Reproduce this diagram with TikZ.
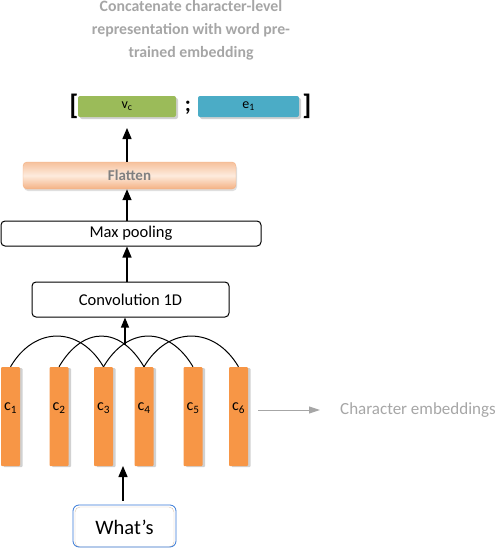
\documentclass[tikz,border=0pt]{standalone}
\usepackage{fontspec}
\setmainfont{Carlito}
\usetikzlibrary{arrows.meta,shadows}
\definecolor{barorange}{HTML}{F79646}
\definecolor{vgreen}{HTML}{9BBB59}
\definecolor{eblue}{HTML}{4BACC6}
\definecolor{txtgray}{HTML}{A6A6A6}
\definecolor{flatA}{HTML}{F4B183}
\definecolor{flatB}{HTML}{FDEBDD}
\tikzset{
  bar/.style={fill=barorange, draw=none, minimum width=19pt, minimum height=99pt, inner sep=0pt,
    rounded corners=1pt, drop shadow={shadow xshift=2.5pt, shadow yshift=-1pt, fill=black!30, opacity=0.6}},
  barlab/.style={font=\fontsize{16}{17}\selectfont, inner sep=0pt},
  layerbox/.style={draw=black, line width=1pt, rounded corners=4pt, inner sep=0pt, font=\fontsize{16.5}{17}\selectfont},
  uparrow/.style={-{Triangle[width=9pt,length=11pt]}, line width=1.4pt},
  arc/.style={line width=1pt},
  vecbox/.style={rounded corners=2pt, inner sep=0pt, minimum height=21pt, font=\fontsize{14}{15}\selectfont,
    drop shadow={shadow xshift=2pt, shadow yshift=-2pt, fill=black!30, opacity=0.6}},
}
\begin{document}
\begin{tikzpicture}[x=1pt,y=-1pt]
\useasboundingbox (0,0) rectangle (496,552);
% title
\node[text=txtgray, font=\bfseries\fontsize{15.8}{23}\selectfont, align=center] (title) at (191,30)
  {Concatenate character-level\\representation with word pre-\\trained embedding};
% top vector
\node[vecbox, fill=vgreen, minimum width=98pt] (vc) at (127,106.5) {v\textsubscript{c}};
\node[vecbox, fill=eblue, minimum width=101pt] (e1) at (248.5,106.5) {e\textsubscript{1}};
\node[font=\bfseries\fontsize{28}{28}\selectfont, inner sep=0pt] (lb) at (74,106) {[};
\node[font=\bfseries\fontsize{28}{28}\selectfont, inner sep=0pt] (rb) at (307,106) {]};
\node[font=\bfseries\fontsize{22}{22}\selectfont, inner sep=0pt] (semi) at (188,108) {;};
% flatten
\node[rounded corners=4pt, top color=flatA!80, bottom color=flatA, middle color=flatB, draw=flatA,
  minimum width=213pt, minimum height=27pt, inner sep=0pt, text=gray, font=\bfseries\fontsize{15}{16}\selectfont,
  drop shadow={shadow xshift=1pt, shadow yshift=-2pt, fill=black!25, opacity=0.5}] (flat) at (129.5,175.5) {Flatten};
% max pooling
\node[layerbox, minimum width=260pt, minimum height=25pt] (mp) at (131,233.5) {Max pooling};
% convolution
\node[layerbox, minimum width=197pt, minimum height=35pt] (conv) at (130.5,299.5) {Convolution 1D};
% arrows
\draw[uparrow] (flat.north -| 127,0) -- (127,128);
\coordinate (f0) at (127,221);
\draw[uparrow] (f0) -- (f0 |- flat.south);
\coordinate (m0) at (127,282);
\draw[uparrow] (m0) -- (m0 |- mp.south);
% bars
\foreach \i/\x in {1/10.5,2/59,3/103.5,4/144,5/193,6/238.5}{
  \node[bar] (c\i) at (\x,416.5) {};
  \node[barlab] (l\i) at (\x,408) {c\textsubscript{\i}};
}
% arcs
\foreach \a/\b in {1/3,2/4,3/5,4/6}{
  \draw[arc] (c\a.north) .. controls +(24,-41) and +(-24,-41) .. (c\b.north);
}
\coordinate (cv0) at (125,345);
\draw[-{Triangle[width=8pt,length=10pt]}, line width=1.2pt] (cv0) -- (cv0 |- conv.south);
% character embeddings
\node[text=txtgray, font=\fontsize{17}{18}\selectfont, anchor=west, inner sep=0pt] (ce) at (340,410) {Character embeddings};
\coordinate (ca) at (258,410);
\draw[-{Triangle[width=7pt,length=11pt]}, line width=1pt, draw=txtgray, fill=txtgray] (ca) -- (ce.west -| 320,0);
% what's
\node[draw=black!20!brown!40, rounded corners=5pt, minimum width=99pt, minimum height=40pt, inner sep=0pt,
  font=\fontsize{20.5}{21}\selectfont] (w) at (124.5,527) {What’s};
\draw[draw=eblue!70!blue, rounded corners=6pt, line width=0.8pt] (73,505) rectangle (176,547);
\draw[uparrow] (w.north -| 123,0) ++(0,-6) -- (123,466);
\end{tikzpicture}
\end{document}
